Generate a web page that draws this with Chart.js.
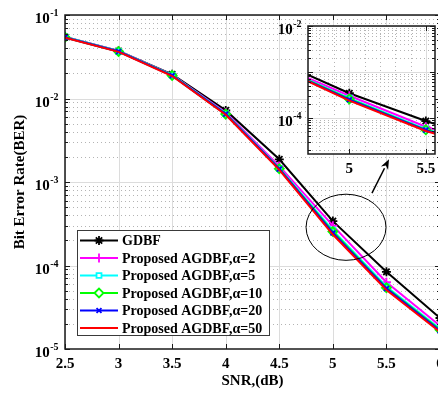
<!DOCTYPE html>
<html>
<head>
<meta charset="utf-8">
<script src="https://cdn.jsdelivr.net/npm/chart.js@4/dist/chart.umd.min.js"></script>
<style>
  html, body { margin: 0; padding: 0; background: #fff; overflow: hidden; width: 438px; height: 394px; }
  #main { position: absolute; left: 0; top: 0; }
  #zoom { position: absolute; left: 260px; top: 0; }
</style>
</head>
<body>
<canvas id="main" width="450" height="394"></canvas>
<canvas id="zoom" width="190" height="185"></canvas>
<script>
// ---- data ----
const snr = [2.5, 3, 3.5, 4, 4.5, 5, 5.5, 6];
const berGDBF    = [0.0545, 0.037,  0.0195, 0.0072, 0.00187, 3.4e-4,  8.4e-5, 2.35e-5];
const berAlpha2  = [0.0545, 0.037,  0.0192, 0.0068, 0.00155, 3.0e-4,  6.3e-5, 1.9e-5];
const berAlpha5  = [0.0545, 0.0368, 0.019,  0.0066, 0.00146, 2.65e-4, 5.6e-5, 1.75e-5];
const berAlpha10 = [0.054,  0.0366, 0.0189, 0.0065, 0.00144, 2.55e-4, 5.4e-5, 1.7e-5];
const berAlpha20 = [0.054,  0.0365, 0.0188, 0.0065, 0.00143, 2.45e-4, 5.3e-5, 1.65e-5];
const berAlpha50 = [0.0535, 0.0362, 0.0186, 0.0064, 0.0014,  2.35e-4, 5.1e-5, 1.6e-5];
const seriesNames = ['GDBF', 'Proposed AGDBF,\u03b1=2', 'Proposed AGDBF,\u03b1=5',
                     'Proposed AGDBF,\u03b1=10', 'Proposed AGDBF,\u03b1=20', 'Proposed AGDBF,\u03b1=50'];
const seriesValues = [berGDBF, berAlpha2, berAlpha5, berAlpha10, berAlpha20, berAlpha50];

const xTickValues = [2.5, 3, 3.5, 4, 4.5, 5, 5.5, 6];
const xTickLabels = ['2.5', '3', '3.5', '4', '4.5', '5', '5.5', '6'];
const yTickExponents = [-1, -2, -3, -4, -5];

const zoomXTickValues = [5, 5.5];
const zoomXTickLabels = ['5', '5.5'];
const zoomYTickExponents = [-2, -4];

// ---- styles ----
const seriesStyles = [
  { color: '#000000', point: 'star',     radius: 4.5 },
  { color: '#ff00ff', point: 'cross',    radius: 4.5 },
  { color: '#00ffff', point: 'rect',     radius: 3.5 },
  { color: '#00ff00', point: 'rectRot',  radius: 4.5 },
  { color: '#0000ff', point: 'crossRot', radius: 3.5 },
  { color: '#ff0000', point: false,      radius: 0 }
];
const SERIF = '"Liberation Serif", "Times New Roman", serif';
const AXIS_COLOR = '#1a1a1a';

function buildDatasets() {
  return seriesValues.map((vals, i) => ({
    label: seriesNames[i],
    data: snr.map((x, j) => ({ x: x, y: vals[j] })),
    borderColor: seriesStyles[i].color,
    backgroundColor: seriesStyles[i].color,
    borderWidth: 2,
    pointStyle: seriesStyles[i].point,
    pointRadius: seriesStyles[i].radius,
    pointBorderWidth: 1.8,
    pointBorderColor: seriesStyles[i].color,
    pointBackgroundColor: 'rgba(0,0,0,0)',
    tension: 0,
    order: seriesValues.length - 1 - i
  }));
}

function decadeMinors(min, max) {
  const out = [];
  for (let e = Math.floor(Math.log10(min)); e <= Math.ceil(Math.log10(max)); e++) {
    for (let k = 2; k <= 9; k++) {
      const v = k * Math.pow(10, e);
      if (v > min && v < max) out.push(v);
    }
  }
  return out;
}
function decades(min, max) {
  const out = [];
  for (let e = Math.ceil(Math.log10(min) - 1e-9); e <= Math.floor(Math.log10(max) + 1e-9); e++) out.push(Math.pow(10, e));
  return out;
}

function drawPowerLabel(ctx, exp, xRight, yTick) {
  const sup = String(exp);
  ctx.fillStyle = '#000';
  ctx.textBaseline = 'alphabetic';
  ctx.font = 'bold 10px ' + SERIF;
  const supW = ctx.measureText(sup).width;
  ctx.textAlign = 'left';
  ctx.fillText(sup, xRight - supW, yTick + 1);
  ctx.font = 'bold 15px ' + SERIF;
  ctx.textAlign = 'right';
  ctx.fillText('10', xRight - supW - 0.5, yTick + 8);
}

// MATLAB-style frame: grids, inward ticks, box and tick labels
function framePlugin(cfg) {
  return {
    id: 'matlabFrame',
    beforeDatasetsDraw(chart) {
      const { ctx, chartArea: a, scales: { x, y } } = chart;
      ctx.save();
      ctx.fillStyle = '#fff';
      ctx.fillRect(a.left, a.top, a.right - a.left, a.bottom - a.top);
      ctx.beginPath();
      ctx.rect(a.left, a.top, a.right - a.left, a.bottom - a.top);
      ctx.clip();
      // minor dotted grid
      ctx.strokeStyle = '#b4b4b4';
      ctx.lineWidth = 1;
      ctx.setLineDash([1, 3]);
      decadeMinors(y.min, y.max).forEach(v => {
        const py = Math.round(y.getPixelForValue(v)) + 0.5;
        ctx.beginPath(); ctx.moveTo(a.left, py); ctx.lineTo(a.right, py); ctx.stroke();
      });
      if (cfg.xMinorStep) {
        for (let v = Math.ceil(x.min / cfg.xMinorStep) * cfg.xMinorStep; v < x.max; v += cfg.xMinorStep) {
          if (cfg.xTicks.some(t => Math.abs(t - v) < 1e-6)) continue;
          const px = Math.round(x.getPixelForValue(v)) + 0.5;
          ctx.beginPath(); ctx.moveTo(px, a.top); ctx.lineTo(px, a.bottom); ctx.stroke();
        }
      }
      // major solid grid
      ctx.setLineDash([]);
      ctx.strokeStyle = '#dcdcdc';
      decades(y.min, y.max).forEach(v => {
        const py = Math.round(y.getPixelForValue(v)) + 0.5;
        ctx.beginPath(); ctx.moveTo(a.left, py); ctx.lineTo(a.right, py); ctx.stroke();
      });
      cfg.xTicks.forEach(v => {
        const px = Math.round(x.getPixelForValue(v)) + 0.5;
        ctx.beginPath(); ctx.moveTo(px, a.top); ctx.lineTo(px, a.bottom); ctx.stroke();
      });
      ctx.restore();
    },
    afterDatasetsDraw(chart) {
      const { ctx, chartArea: a, scales: { x, y } } = chart;
      ctx.save();
      ctx.strokeStyle = AXIS_COLOR;
      ctx.lineWidth = 1;
      // x ticks (bottom and top, inward)
      cfg.xTicks.forEach(v => {
        const px = Math.round(x.getPixelForValue(v)) + 0.5;
        ctx.beginPath();
        ctx.moveTo(px, a.bottom); ctx.lineTo(px, a.bottom - 5);
        ctx.moveTo(px, a.top); ctx.lineTo(px, a.top + 5);
        ctx.stroke();
      });
      // y ticks (left, and right when visible)
      const yt = decades(y.min, y.max).map(v => [v, 5]).concat(decadeMinors(y.min, y.max).map(v => [v, 3]));
      yt.forEach(([v, len]) => {
        const py = Math.round(y.getPixelForValue(v)) + 0.5;
        ctx.beginPath();
        ctx.moveTo(a.left, py); ctx.lineTo(a.left + len, py);
        ctx.moveTo(a.right, py); ctx.lineTo(a.right - len, py);
        ctx.stroke();
      });
      // box
      ctx.lineWidth = 1.5;
      ctx.strokeRect(a.left, a.top, a.right - a.left, a.bottom - a.top);
      ctx.restore();
    },
    afterDraw(chart) {
      const { ctx, chartArea: a, scales: { x, y } } = chart;
      ctx.save();
      ctx.fillStyle = '#000';
      ctx.font = 'bold 15px ' + SERIF;
      ctx.textAlign = 'center';
      ctx.textBaseline = 'alphabetic';
      cfg.xTicks.forEach((v, i) => {
        ctx.fillText(cfg.xLabels[i], x.getPixelForValue(v), a.bottom + 19);
      });
      cfg.yExponents.forEach(e => {
        drawPowerLabel(ctx, e, a.left - 6.5, y.getPixelForValue(Math.pow(10, e)));
      });
      ctx.restore();
      if (cfg.extra) cfg.extra(chart);
    }
  };
}

// zoom marker (ellipse + arrow) and the legend box
function drawMainExtras(chart) {
  const { ctx, chartArea: a, scales: { x, y } } = chart;
  ctx.save();
  // ellipse around the SNR = 5 dB region
  const cx = x.getPixelForValue(5.123), cy = y.getPixelForValue(2.87e-4);
  const rx = x.getPixelForValue(5.123 + 0.373) - cx;
  const ry = cy - y.getPixelForValue(2.87e-4 * Math.pow(10, 0.396));
  ctx.strokeStyle = '#000';
  ctx.lineWidth = 1;
  ctx.beginPath();
  ctx.ellipse(cx, cy, rx, ry, 0, 0, Math.PI * 2);
  ctx.stroke();
  // arrow pointing to the zoomed view
  const x0 = x.getPixelForValue(5.365), y0 = y.getPixelForValue(7.35e-4);
  const x1 = x.getPixelForValue(5.524), y1 = y.getPixelForValue(1.87e-3);
  const ang = Math.atan2(y1 - y0, x1 - x0);
  const hl = 10, hw = 4;
  ctx.lineWidth = 1.5;
  ctx.beginPath();
  ctx.moveTo(x0, y0);
  ctx.lineTo(x1 - hl * Math.cos(ang), y1 - hl * Math.sin(ang));
  ctx.stroke();
  ctx.fillStyle = '#000';
  ctx.beginPath();
  ctx.moveTo(x1, y1);
  ctx.lineTo(x1 - hl * Math.cos(ang) + hw * Math.sin(ang), y1 - hl * Math.sin(ang) - hw * Math.cos(ang));
  ctx.lineTo(x1 - hl * 0.7 * Math.cos(ang), y1 - hl * 0.7 * Math.sin(ang));
  ctx.lineTo(x1 - hl * Math.cos(ang) - hw * Math.sin(ang), y1 - hl * Math.sin(ang) + hw * Math.cos(ang));
  ctx.closePath();
  ctx.fill();

  // legend
  const bx = a.left + 12, bw = 192, bh = 105, by = a.bottom - 14 - bh;
  ctx.fillStyle = '#fff';
  ctx.fillRect(bx, by, bw, bh);
  ctx.strokeStyle = '#3a3a3a';
  ctx.lineWidth = 1;
  ctx.strokeRect(bx + 0.5, by + 0.5, bw, bh);
  ctx.font = 'bold 14px ' + SERIF;
  ctx.textAlign = 'left';
  ctx.textBaseline = 'middle';
  seriesNames.forEach((name, i) => {
    const st = seriesStyles[i];
    const ry0 = by + 10.5 + i * 17.5;
    ctx.strokeStyle = st.color;
    ctx.lineWidth = 2;
    ctx.beginPath();
    ctx.moveTo(bx + 3, ry0); ctx.lineTo(bx + 41, ry0);
    ctx.stroke();
    if (st.point) {
      ctx.fillStyle = st.point === 'star' ? st.color : '#fff';
      ctx.lineWidth = 1.8;
      Chart.helpers.drawPoint(ctx, { pointStyle: st.point, radius: st.radius, rotation: 0, borderWidth: 1.8 }, bx + 22, ry0);
    }
    ctx.fillStyle = '#000';
    ctx.fillText(name, bx + 45, ry0 + 1);
  });
  ctx.restore();
}

function scaleCommon() {
  return { grid: { display: false }, border: { display: false }, ticks: { display: false } };
}

// main axes
new Chart(document.getElementById('main'), {
  type: 'line',
  data: { datasets: buildDatasets() },
  options: {
    responsive: false,
    animation: false,
    events: [],
    layout: { padding: { top: 15, right: 10, left: 0, bottom: 0 } },
    plugins: { legend: { display: false }, tooltip: { enabled: false } },
    scales: {
      x: Object.assign(scaleCommon(), {
        type: 'linear', min: 2.5, max: 6,
        title: { display: true, text: 'SNR,(dB)', color: '#000',
                 font: { family: SERIF, weight: 'bold', size: 15 }, padding: { top: 0, bottom: 4 } },
        afterFit(s) { s.height = 45; }
      }),
      y: Object.assign(scaleCommon(), {
        type: 'logarithmic', min: 1e-5, max: 1e-1,
        title: { display: true, text: 'Bit Error Rate(BER)', color: '#000',
                 font: { family: SERIF, weight: 'bold', size: 15 }, padding: { top: 11, bottom: 0 } },
        afterFit(s) { s.width = 65; }
      })
    }
  },
  plugins: [framePlugin({ xTicks: xTickValues, xLabels: xTickLabels, yExponents: yTickExponents, extra: drawMainExtras })]
});

// zoomed view around SNR = 5 to 5.5 dB
new Chart(document.getElementById('zoom'), {
  type: 'line',
  data: { datasets: buildDatasets() },
  options: {
    responsive: false,
    animation: false,
    events: [],
    layout: { padding: { top: 26, right: 15, left: 0, bottom: 0 } },
    plugins: { legend: { display: false }, tooltip: { enabled: false } },
    scales: {
      x: Object.assign(scaleCommon(), {
        type: 'linear', min: 4.73, max: 5.56,
        afterFit(s) { s.height = 31; }
      }),
      y: Object.assign(scaleCommon(), {
        type: 'logarithmic', min: 1.6e-5, max: 1e-2,
        afterFit(s) { s.width = 48; }
      })
    }
  },
  plugins: [framePlugin({ xTicks: zoomXTickValues, xLabels: zoomXTickLabels, yExponents: zoomYTickExponents, xMinorStep: 0.1 })]
});
</script>
</body>
</html>
